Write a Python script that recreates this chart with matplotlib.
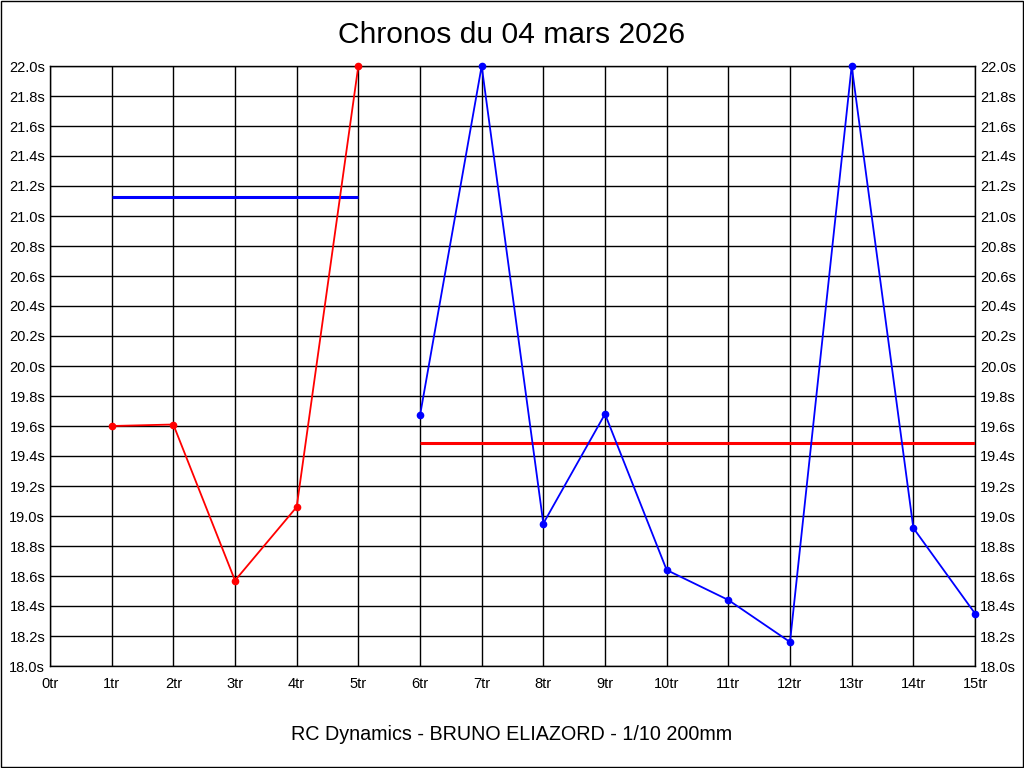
import matplotlib
matplotlib.use("Agg")
import matplotlib.pyplot as plt
from matplotlib.ticker import FuncFormatter, MultipleLocator

plt.rcParams["font.family"] = ["Liberation Sans", "DejaVu Sans"]

TITLE = "Chronos du 04 mars 2026"
FOOTER = "RC Dynamics - BRUNO ELIAZORD - 1/10 200mm"

# laps (tours) and times in seconds
RED_LAPS = [1, 2, 3, 4, 5]
RED_TIMES = [19.60, 19.61, 18.57, 19.06, 22.00]
BLUE_LAPS = [6, 7, 8, 9, 10, 11, 12, 13, 14, 15]
BLUE_TIMES = [19.67, 22.00, 18.95, 19.68, 18.64, 18.44, 18.16, 22.00, 18.92, 18.35]

# averages drawn as horizontal lines
RED_AVG_SPAN = [1, 5]
RED_AVG = 21.13
BLUE_AVG_SPAN = [6, 15]
BLUE_AVG = 19.49

X_TICKS = list(range(0, 16))
Y_MIN, Y_MAX, Y_STEP = 18.0, 22.0, 0.2

fig = plt.figure(figsize=(10.24, 7.68), dpi=100)
ax = fig.add_axes([50 / 1024, 102 / 768, 925 / 1024, 600 / 768])

ax.plot(RED_AVG_SPAN, [RED_AVG, RED_AVG], color="#0000ff", lw=2.2, solid_capstyle="butt", zorder=3)
ax.plot(BLUE_AVG_SPAN, [BLUE_AVG, BLUE_AVG], color="#ff0000", lw=2.2, solid_capstyle="butt", zorder=3)

ax.plot(RED_LAPS, RED_TIMES, color="#ff0000", lw=1.3, marker="o", ms=4.5, clip_on=False, zorder=4)
ax.plot(BLUE_LAPS, BLUE_TIMES, color="#0000ff", lw=1.3, marker="o", ms=4.5, clip_on=False, zorder=4)

ax.set_xlim(0, 15)
ax.set_ylim(Y_MIN, Y_MAX)
ax.set_xticks(X_TICKS)
ax.set_xticklabels([f"{i}tr" for i in X_TICKS])
ax.yaxis.set_major_locator(MultipleLocator(Y_STEP))
ax.yaxis.set_major_formatter(FuncFormatter(lambda v, p: f"{v:.1f}s"))
ax.tick_params(axis="both", length=0, labelsize=10.5, colors="black")
ax.tick_params(axis="y", right=True, labelright=True, pad=3.5)
ax.tick_params(axis="x", pad=8)
ax.grid(True, color="black", lw=1.0)
for sp in ax.spines.values():
    sp.set_color("black")
    sp.set_linewidth(1.0)

fig.text(0.5, 1 - 35 / 768, TITLE, ha="center", va="center", fontsize=21.6)
fig.text(0.5, 1 - 735 / 768, FOOTER, ha="center", va="center", fontsize=14.2)

# thin black frame around the whole image
fig.patches.append(plt.Rectangle((0.0005, 0.0007), 0.999, 0.9986, transform=fig.transFigure,
                                 fill=False, edgecolor="black", lw=1.0))

fig.savefig("out.png", dpi=100)
